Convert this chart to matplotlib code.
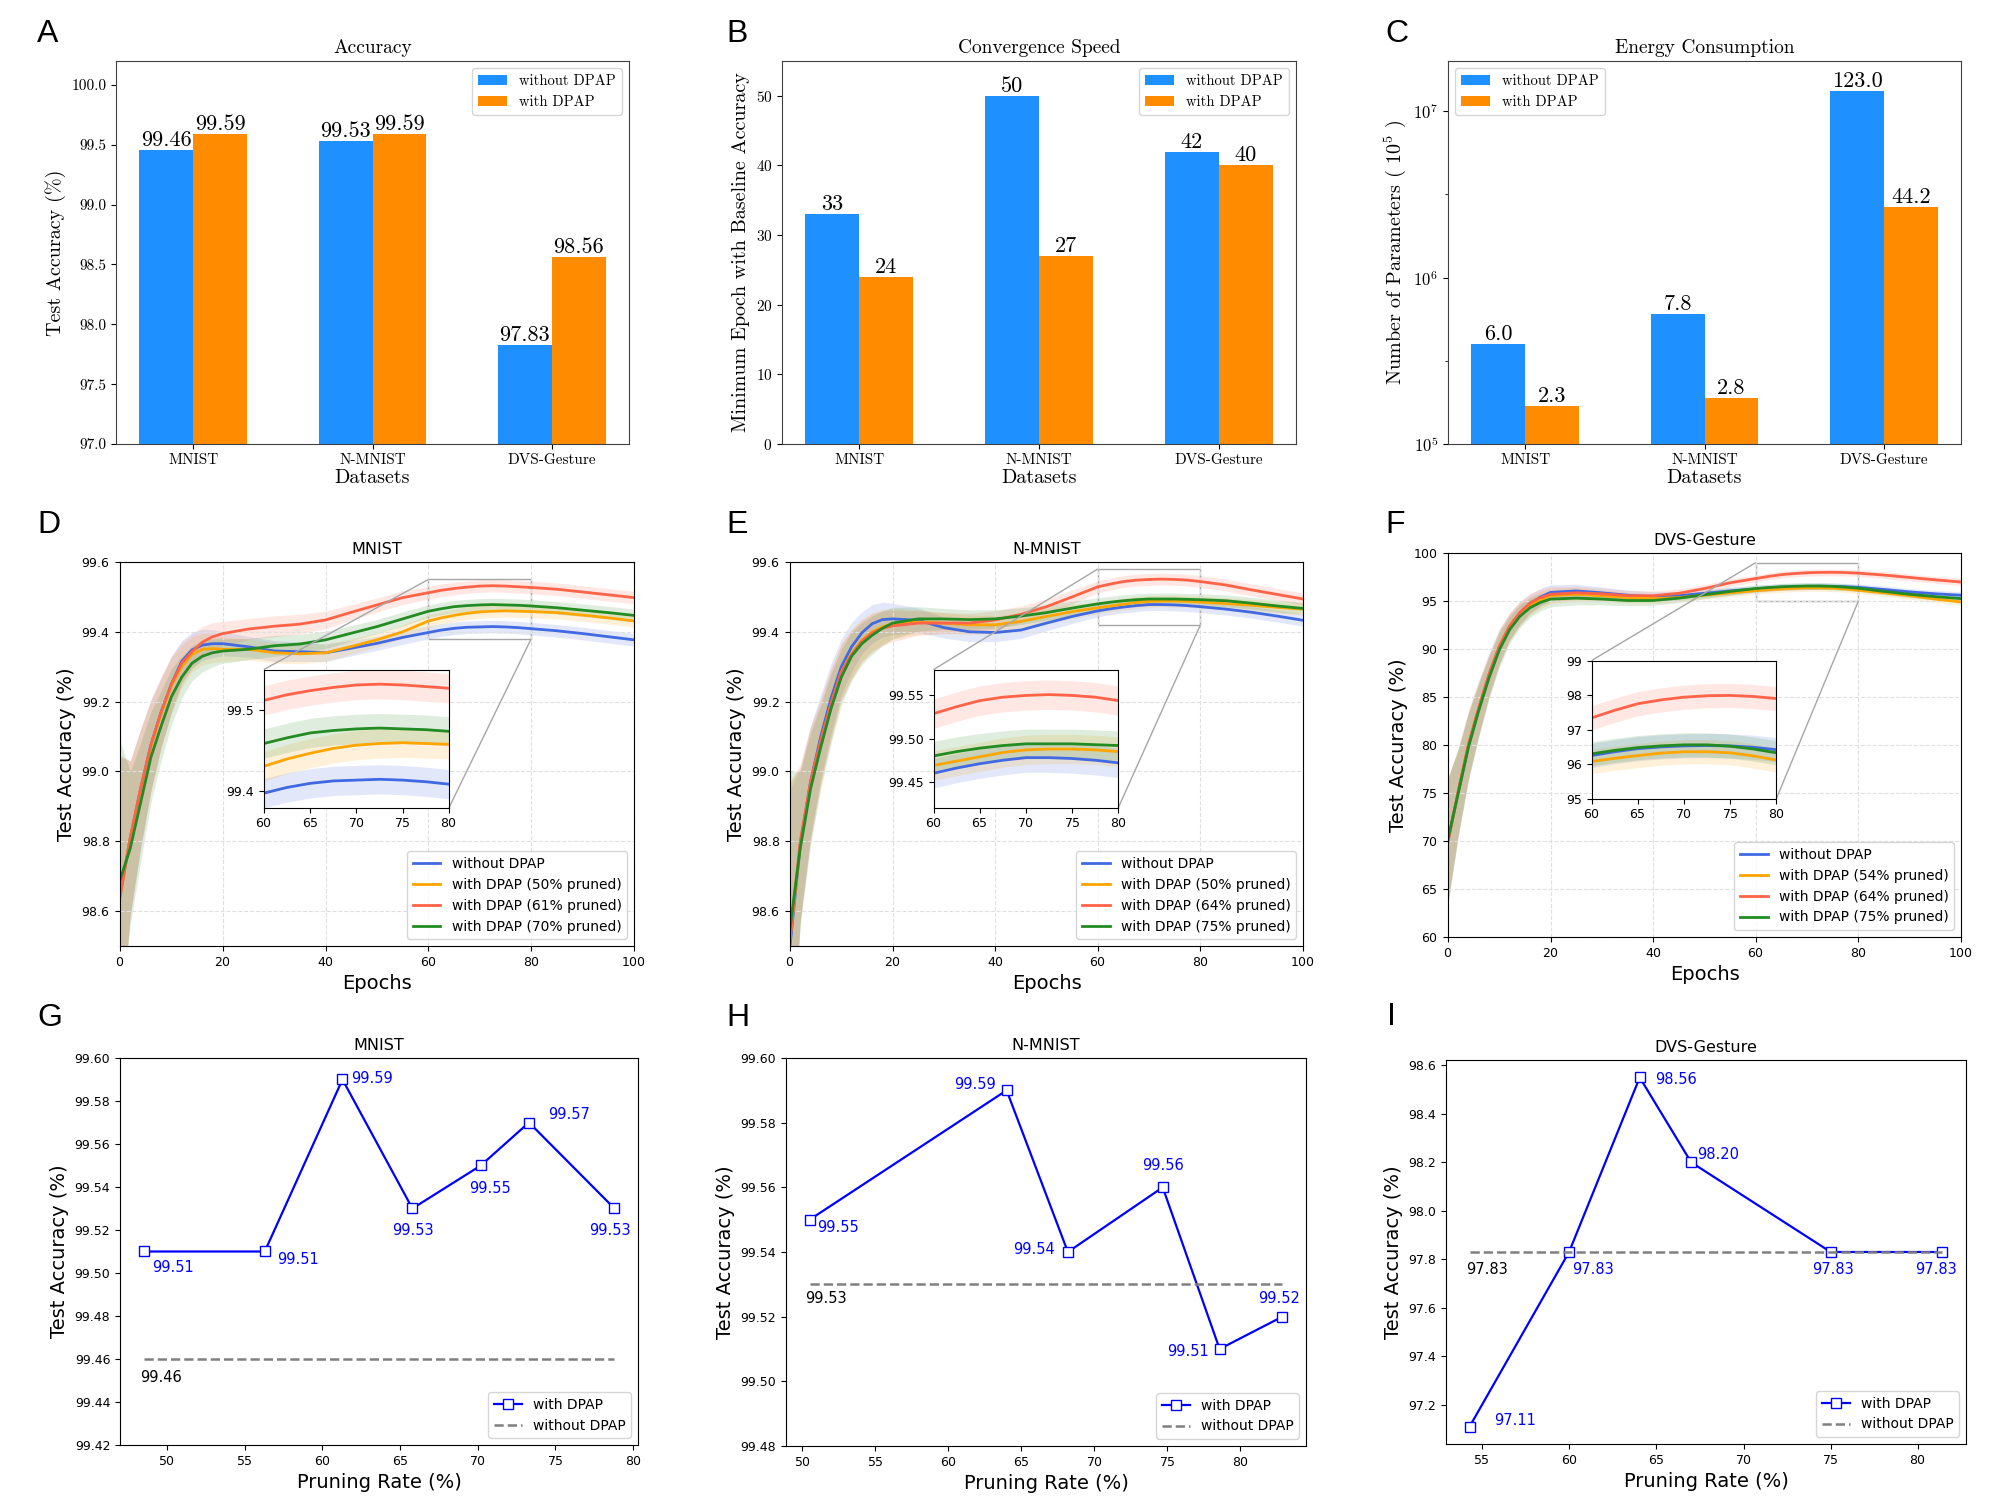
import numpy as np
import matplotlib
matplotlib.use("Agg")
import matplotlib.pyplot as plt
from matplotlib.ticker import FixedLocator, NullFormatter, FormatStrFormatter
from mpl_toolkits.axes_grid1.inset_locator import mark_inset

plt.rcParams["mathtext.fontset"] = "cm"
plt.rcParams["axes.formatter.use_mathtext"] = True

# ---------------- data: top row (bar charts) ----------------
datasets = ["MNIST", "N-MNIST", "DVS-Gesture"]
acc_without = [99.46, 99.53, 97.83]
acc_with = [99.59, 99.59, 98.56]
epoch_without = [33, 50, 42]
epoch_with = [24, 27, 40]
# bar heights as drawn on the log axis, and the printed labels (x 10^5)
params_without = [4.0e5, 6.0e5, 1.32e7]
params_with = [1.7e5, 1.9e5, 2.65e6]
params_without_lbl = ["6.0", "7.8", "123.0"]
params_with_lbl = ["2.3", "2.8", "44.2"]

# ---------------- data: middle row (training curves) ----------------
epochs = [0, 2, 4, 6, 8, 10, 12, 14, 16, 18, 20, 25, 30, 35, 40, 45, 50, 55,
          60, 62.5, 65, 67.5, 70, 72.5, 75, 77.5, 80, 85, 90, 95, 100]

mnist_base = [98.646, 98.81, 98.95, 99.075, 99.17, 99.25, 99.315, 99.348, 99.362, 99.366, 99.366,
              99.357, 99.345, 99.343, 99.34, 99.353, 99.367, 99.384, 99.398, 99.405, 99.41, 99.413,
              99.414, 99.415, 99.414, 99.412, 99.409, 99.403, 99.395, 99.386, 99.377]
mnist_p50 = [98.646, 98.81, 98.95, 99.07, 99.165, 99.245, 99.30, 99.335, 99.35, 99.352, 99.35,
             99.35, 99.34, 99.337, 99.34, 99.358, 99.377, 99.40, 99.431, 99.44, 99.447, 99.453,
             99.457, 99.459, 99.46, 99.459, 99.458, 99.455, 99.448, 99.44, 99.431]
mnist_p61 = [98.64, 98.81, 98.95, 99.075, 99.17, 99.25, 99.31, 99.343, 99.37, 99.386, 99.395,
             99.408, 99.416, 99.422, 99.434, 99.456, 99.477, 99.498, 99.512, 99.519, 99.524, 99.528,
             99.531, 99.532, 99.531, 99.529, 99.527, 99.522, 99.514, 99.506, 99.498]
mnist_p70 = [98.689, 98.78, 98.91, 99.04, 99.13, 99.214, 99.27, 99.31, 99.33, 99.34, 99.345,
             99.35, 99.36, 99.365, 99.377, 99.396, 99.415, 99.437, 99.459, 99.466, 99.472, 99.475,
             99.477, 99.478, 99.477, 99.476, 99.474, 99.469, 99.462, 99.455, 99.447]
mnist_band = [0.40, 0.22, 0.17, 0.13, 0.10, 0.08, 0.06, 0.05, 0.045, 0.04, 0.035,
              0.03, 0.03, 0.028, 0.025, 0.022, 0.02, 0.02, 0.018, 0.018, 0.018, 0.018,
              0.018, 0.018, 0.018, 0.018, 0.018, 0.018, 0.018, 0.018, 0.018]

nmnist_base = [98.50, 98.79, 98.97, 99.10, 99.21, 99.30, 99.357, 99.397, 99.423, 99.435, 99.437,
               99.433, 99.412, 99.40, 99.398, 99.405, 99.425, 99.444, 99.46, 99.466, 99.471, 99.475,
               99.478, 99.478, 99.477, 99.475, 99.472, 99.465, 99.456, 99.445, 99.433]
nmnist_p50 = [98.52, 98.79, 98.96, 99.08, 99.19, 99.285, 99.338, 99.376, 99.40, 99.414, 99.423,
              99.428, 99.425, 99.42, 99.42, 99.43, 99.444, 99.458, 99.469, 99.474, 99.479, 99.484,
              99.487, 99.488, 99.488, 99.487, 99.485, 99.481, 99.476, 99.47, 99.465]
nmnist_p64 = [98.52, 98.80, 98.97, 99.09, 99.195, 99.285, 99.335, 99.373, 99.397, 99.41, 99.417,
              99.425, 99.425, 99.425, 99.434, 99.45, 99.472, 99.50, 99.529, 99.537, 99.544, 99.548,
              99.55, 99.551, 99.55, 99.548, 99.544, 99.534, 99.52, 99.507, 99.494]
nmnist_p75 = [98.55, 98.78, 98.95, 99.07, 99.18, 99.27, 99.33, 99.366, 99.39, 99.41, 99.425,
              99.437, 99.437, 99.435, 99.437, 99.445, 99.455, 99.468, 99.48, 99.485, 99.489, 99.492,
              99.494, 99.494, 99.494, 99.493, 99.492, 99.489, 99.482, 99.474, 99.467]
nmnist_band = [0.45, 0.22, 0.16, 0.12, 0.10, 0.08, 0.07, 0.06, 0.055, 0.05, 0.045,
               0.035, 0.03, 0.028, 0.026, 0.024, 0.022, 0.02, 0.017, 0.017, 0.017, 0.017,
               0.017, 0.017, 0.017, 0.017, 0.017, 0.017, 0.017, 0.017, 0.017]

dvs_base = [70.0, 75.1, 80.0, 83.8, 87.3, 90.2, 92.3, 93.7, 94.7, 95.4, 95.9,
            96.05, 95.85, 95.6, 95.45, 95.55, 95.8, 96.05, 96.25, 96.36, 96.45, 96.5,
            96.53, 96.54, 96.53, 96.49, 96.42, 96.2, 95.95, 95.75, 95.6]
dvs_p54 = [70.0, 75.1, 80.0, 83.8, 87.2, 90.1, 92.2, 93.6, 94.5, 95.1, 95.55,
           95.7, 95.55, 95.35, 95.25, 95.35, 95.6, 95.85, 96.08, 96.17, 96.25, 96.32,
           96.36, 96.36, 96.33, 96.24, 96.12, 95.85, 95.55, 95.2, 94.9]
dvs_p64 = [70.0, 75.2, 80.1, 83.9, 87.4, 90.3, 92.4, 93.8, 94.8, 95.35, 95.7,
           95.85, 95.75, 95.55, 95.55, 95.8, 96.3, 96.9, 97.34, 97.56, 97.75, 97.86,
           97.94, 97.98, 97.99, 97.96, 97.9, 97.7, 97.45, 97.2, 96.98]
dvs_p75 = [70.2, 75.0, 79.8, 83.6, 87.0, 89.9, 92.0, 93.4, 94.3, 94.85, 95.2,
           95.3, 95.2, 95.05, 95.05, 95.3, 95.65, 96.0, 96.3, 96.4, 96.48, 96.53,
           96.56, 96.56, 96.52, 96.44, 96.33, 96.0, 95.7, 95.45, 95.25]
dvs_band = [6.5, 4.5, 3.5, 2.8, 2.2, 1.8, 1.4, 1.2, 1.0, 0.9, 0.8,
            0.7, 0.6, 0.55, 0.5, 0.45, 0.4, 0.4, 0.35, 0.35, 0.35, 0.35,
            0.35, 0.35, 0.35, 0.35, 0.35, 0.35, 0.35, 0.35, 0.35]

labels_d = ["without DPAP", "with DPAP (50% pruned)", "with DPAP (61% pruned)", "with DPAP (70% pruned)"]
labels_e = ["without DPAP", "with DPAP (50% pruned)", "with DPAP (64% pruned)", "with DPAP (75% pruned)"]
labels_f = ["without DPAP", "with DPAP (54% pruned)", "with DPAP (64% pruned)", "with DPAP (75% pruned)"]

# ---------------- data: bottom row (pruning rate) ----------------
rate_g = [48.5, 56.3, 61.3, 65.8, 70.2, 73.3, 78.8]
acc_g = [99.51, 99.51, 99.59, 99.53, 99.55, 99.57, 99.53]
lbl_g = ["99.51", "99.51", "99.59", "99.53", "99.55", "99.57", "99.53"]
base_g = 99.46

rate_h = [50.5, 64.0, 68.2, 74.7, 78.6, 82.9]
acc_h = [99.55, 99.59, 99.54, 99.56, 99.51, 99.52]
lbl_h = ["99.55", "99.59", "99.54", "99.56", "99.51", "99.52"]
base_h = 99.53

rate_i = [54.3, 60.0, 64.05, 67.0, 75.0, 81.4]
acc_i = [97.11, 97.83, 98.55, 98.20, 97.83, 97.83]
lbl_i = ["97.11", "97.83", "98.56", "98.20", "97.83", "97.83"]
base_i = 97.83

# label offsets in pixels (dx, dy, ha)
off_g = [(9, -16, "left"), (12, -8, "left"), (9, 1, "left"), (1, -22, "center"),
         (9, -23, "center"), (19, 8, "left"), (-5, -22, "center")]
off_h = [(7, -8, "left"), (-11, 6, "right"), (-13, 2, "right"), (0, 22, "center"),
         (-11, -2, "right"), (-3, 18, "center")]
off_i = [(24, 6, "left"), (3, -18, "left"), (15, -2, "left"), (6, 8, "left"),
         (2, -18, "center"), (-6, -18, "center")]

W, H = 2000, 1510
fig = plt.figure(figsize=(W / 100, H / 100), dpi=100)


def rect(l, r, t, b):
    return [l / W, 1 - b / H, (r - l) / W, (b - t) / H]


# ---------------- top row ----------------
SERIF = ["cmr10", "DejaVu Serif"]
plt.rcParams["font.family"] = SERIF


def bar_panel(pos, title, ylabel, v_wo, v_w, lbl_wo, lbl_w, loc):
    ax = fig.add_axes(pos)
    x = np.arange(len(datasets))
    w = 0.3
    b1 = ax.bar(x - w / 2, v_wo, w, color="#1E90FF", label="without DPAP")
    b2 = ax.bar(x + w / 2, v_w, w, color="#FF8C00", label="with DPAP")
    ax.bar_label(b1, labels=lbl_wo, fontsize=16, padding=0)
    ax.bar_label(b2, labels=lbl_w, fontsize=16, padding=0)
    ax.set_xticks(x, datasets, fontsize=11)
    ax.set_title(title, fontsize=14)
    ax.set_xlabel("Datasets", fontsize=14.5, labelpad=1)
    ax.set_ylabel(ylabel, fontsize=14.5)
    ax.legend(loc=loc, fontsize=10.5)
    for s in ax.spines.values():
        s.set_color("0.25")
    return ax


axA = bar_panel(rect(116, 629, 61, 444), "Accuracy", "Test Accuracy (%)",
                acc_without, acc_with, acc_without, acc_with, "upper right")
axA.set_ylim(97.0, 100.2)
axA.set_yticks(np.arange(97.0, 100.01, 0.5))
axA.yaxis.set_major_formatter(FormatStrFormatter("%.1f"))
axA.tick_params(axis="y", labelsize=11)

axB = bar_panel(rect(782, 1296, 61, 444), "Convergence Speed", "Minimum Epoch with Baseline Accuracy",
                epoch_without, epoch_with, epoch_without, epoch_with, "upper right")
axB.set_ylim(0, 55)
axB.set_yticks(np.arange(0, 51, 10))
axB.tick_params(axis="y", labelsize=11)

axC = bar_panel(rect(1448, 1961, 61, 444), "Energy Consumption", r"Number of Parameters ( $10^5$ )",
                params_without, params_with, params_without_lbl, params_with_lbl, "upper left")
axC.set_yscale("log")
axC.set_ylim(1e5, 2.0e7)
axC.set_yticks([1e5, 1e6, 1e7])
axC.yaxis.set_minor_locator(FixedLocator([10 ** 5.5, 10 ** 6.5]))
axC.yaxis.set_minor_formatter(NullFormatter())
axC.tick_params(axis="y", labelsize=12)

# ---------------- middle row ----------------
plt.rcParams["font.family"] = ["DejaVu Sans"]
curve_colors = ["#4169E1", "#FFA500", "#FF6347", "#228B22"]


def draw_curves(ax, curves, band):
    band = np.array(band)
    for vals, col in zip(curves, curve_colors):
        vals = np.array(vals)
        ax.fill_between(epochs, vals - band, vals + band, color=col, alpha=0.15, lw=0)
    for vals, col in zip(curves, curve_colors):
        ax.plot(epochs, vals, color=col, lw=2)


def curve_panel(pos, title, curves, band, labels, ylim, yticks, in_ylim, in_yticks, in_fmt):
    ax = fig.add_axes(pos)
    draw_curves(ax, curves, band)
    for line, lab in zip(ax.get_lines(), labels):
        line.set_label(lab)
    ax.set_xlim(0, 100)
    ax.set_ylim(*ylim)
    ax.set_xticks(np.arange(0, 101, 20))
    ax.set_yticks(yticks)
    ax.tick_params(labelsize=9)
    ax.grid(True, linestyle="--", color="0.88", lw=0.8)
    ax.set_title(title, fontsize=11.5)
    ax.set_xlabel("Epochs", fontsize=14)
    ax.set_ylabel("Test Accuracy (%)", fontsize=14)
    ax.legend(loc="lower right", fontsize=10)

    axins = ax.inset_axes([0.28, 0.36, 0.36, 0.36])
    draw_curves(axins, curves, band)
    axins.set_xlim(60, 80)
    axins.set_ylim(*in_ylim)
    axins.set_xticks(np.arange(60, 81, 5))
    axins.set_yticks(in_yticks)
    axins.yaxis.set_major_formatter(FormatStrFormatter(in_fmt))
    axins.tick_params(labelsize=9)
    mark_inset(ax, axins, loc1=2, loc2=4, fc="none", ec="0.65", lw=1)
    return ax


curve_panel(rect(120, 634, 562, 946), "MNIST",
            [mnist_base, mnist_p50, mnist_p61, mnist_p70], mnist_band, labels_d,
            (98.5, 99.6), np.arange(98.6, 99.61, 0.2), (99.38, 99.55), [99.4, 99.5], "%.1f")
curve_panel(rect(790, 1303, 562, 946), "N-MNIST",
            [nmnist_base, nmnist_p50, nmnist_p64, nmnist_p75], nmnist_band, labels_e,
            (98.5, 99.6), np.arange(98.6, 99.61, 0.2), (99.42, 99.58), [99.45, 99.50, 99.55], "%.2f")
curve_panel(rect(1448, 1961, 553, 937), "DVS-Gesture",
            [dvs_base, dvs_p54, dvs_p64, dvs_p75], dvs_band, labels_f,
            (60, 100), np.arange(60, 101, 5), (95, 99), [95, 96, 97, 98, 99], "%d")

# ---------------- bottom row ----------------


def rate_panel(pos, title, rates, acc, lbls, offs, base, base_off, fmt):
    ax = fig.add_axes(pos)
    ax.plot(rates, acc, color="blue", marker="s", mfc="white", ms=6.5, lw=1.6, label="with DPAP")
    ax.plot([rates[0], rates[-1]], [base, base], "--", color="gray", lw=1.8, label="without DPAP")
    for x, y, t, (dx, dy, ha) in zip(rates, acc, lbls, offs):
        ax.annotate(t, (x, y), xytext=(dx, dy), textcoords="offset pixels",
                    color="blue", fontsize=10.5, ha=ha, va="center")
    ax.annotate(f"{base:.2f}", (rates[0], base), xytext=base_off, textcoords="offset pixels",
                color="black", fontsize=10.5, ha="left", va="center")
    ax.yaxis.set_major_formatter(FormatStrFormatter(fmt))
    ax.tick_params(labelsize=9)
    ax.set_title(title, fontsize=11.5)
    ax.set_xlabel("Pruning Rate (%)", fontsize=14)
    ax.set_ylabel("Test Accuracy (%)", fontsize=14)
    ax.legend(loc="lower right", fontsize=10)
    return ax


axG = rate_panel(rect(120, 638, 1058, 1445), "MNIST", rate_g, acc_g, lbl_g, off_g, base_g, (-3, -19), "%.2f")
axG.set_ylim(99.42, 99.60)
axG.set_yticks(np.arange(99.42, 99.601, 0.02))

axH = rate_panel(rect(786, 1306, 1058, 1446), "N-MNIST", rate_h, acc_h, lbl_h, off_h, base_h, (-5, -14), "%.2f")
axH.set_ylim(99.48, 99.60)
axH.set_yticks(np.arange(99.48, 99.601, 0.02))

axI = rate_panel(rect(1446, 1966, 1060, 1444), "DVS-Gesture", rate_i, acc_i, lbl_i, off_i, base_i, (-4, -18), "%.1f")
axI.set_yticks(np.arange(97.2, 98.61, 0.2))

# ---------------- panel letters ----------------
letters = ["A", "B", "C", "D", "E", "F", "G", "H", "I"]
letter_x = [37, 726, 1385, 37, 726, 1385, 37, 726, 1387]
letter_y = [42, 42, 42, 533, 533, 533, 1026, 1026, 1025]
for t, lx, ly in zip(letters, letter_x, letter_y):
    fig.text(lx / W, 1 - ly / H, t, fontsize=23, family="Liberation Sans", va="baseline", ha="left")

fig.savefig("out.png", dpi=100)
